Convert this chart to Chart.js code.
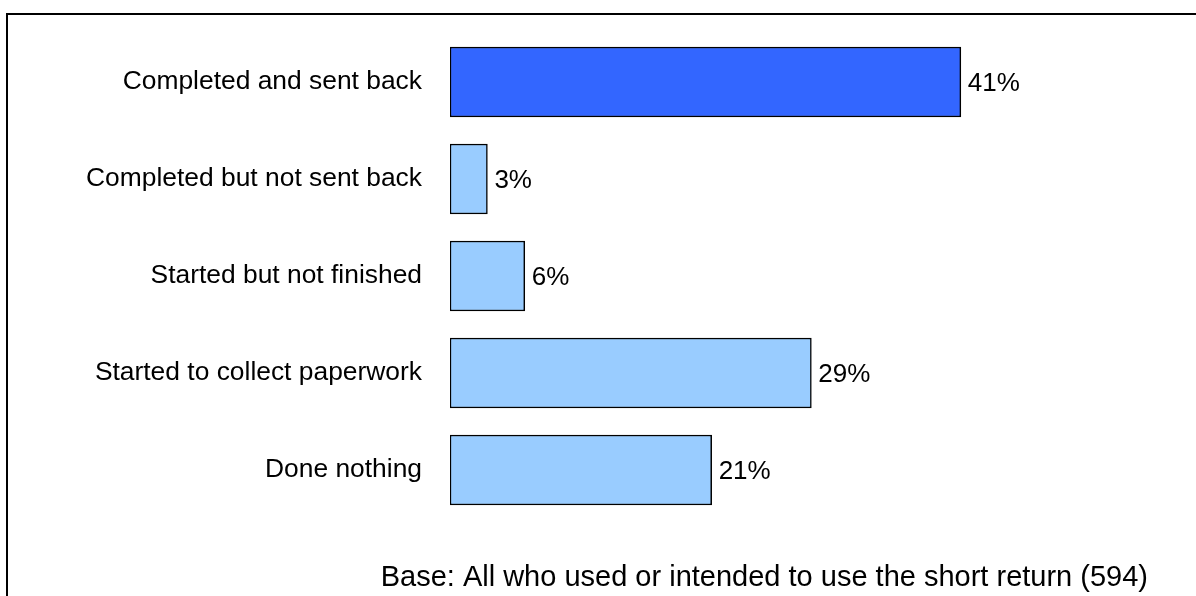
<!DOCTYPE html>
<html>
<head>
<meta charset="utf-8">
<style>
  html, body { margin: 0; padding: 0; background: #ffffff; }
  #wrap { width: 1196px; height: 596px; position: relative; }
</style>
<script src="https://cdn.jsdelivr.net/npm/chart.js@4/dist/chart.umd.min.js"></script>
</head>
<body>
<div id="wrap"><canvas id="chart" width="1196" height="596"></canvas></div>
<script>
// Progress with the short return
const categories = [
  'Completed and sent back',
  'Completed but not sent back',
  'Started but not finished',
  'Started to collect paperwork',
  'Done nothing'
];
const shares = [41, 3, 6, 29, 21];
const valueLabels = ['41%', '3%', '6%', '29%', '21%'];
const barColors = ['#3366FF', '#99CCFF', '#99CCFF', '#99CCFF', '#99CCFF'];
const footnote = 'Base: All who used or intended to use the short return (594)';

const FONT = '"Liberation Sans", Arial, sans-serif';

// Frame lines, value labels and base note
const decorations = {
  id: 'decorations',
  beforeDraw(chart) {
    const ctx = chart.ctx;
    ctx.save();
    ctx.fillStyle = '#ffffff';
    ctx.fillRect(0, 0, chart.width, chart.height);
    ctx.strokeStyle = '#000000';
    ctx.lineWidth = 2;
    ctx.beginPath();
    ctx.moveTo(7, chart.height);
    ctx.lineTo(7, 14);
    ctx.lineTo(chart.width, 14);
    ctx.stroke();
    ctx.restore();
  },
  afterDatasetsDraw(chart) {
    const ctx = chart.ctx;
    const meta = chart.getDatasetMeta(0);
    ctx.save();
    ctx.fillStyle = '#000000';
    ctx.font = '26px ' + FONT;
    ctx.textAlign = 'left';
    ctx.textBaseline = 'middle';
    meta.data.forEach((bar, i) => {
      ctx.fillText(valueLabels[i], bar.x + 7, bar.y + 2);
    });
    ctx.font = '29px ' + FONT;
    ctx.textAlign = 'right';
    ctx.fillText(footnote, 1148, 578);
    ctx.restore();
  }
};

new Chart(document.getElementById('chart'), {
  type: 'bar',
  data: {
    labels: categories,
    datasets: [{
      data: shares,
      backgroundColor: barColors,
      borderColor: '#000000',
      borderWidth: 1.5,
      borderSkipped: false,
      barThickness: 70
    }]
  },
  options: {
    indexAxis: 'y',
    responsive: false,
    animation: false,
    layout: { padding: { left: 0, right: 123, top: 33.5, bottom: 77.5 } },
    plugins: {
      legend: { display: false },
      tooltip: { enabled: false }
    },
    scales: {
      x: {
        display: false,
        min: 0,
        max: 50
      },
      y: {
        grid: { display: false, drawTicks: false },
        border: { display: false },
        ticks: {
          color: '#000000',
          font: { family: FONT, size: 26.4 },
          padding: 28
        },
        afterFit(scale) {
          scale.width = 450;
          scale.paddingTop = 0;
          scale.paddingBottom = 0;
        }
      }
    }
  },
  plugins: [decorations]
});
</script>
</body>
</html>
